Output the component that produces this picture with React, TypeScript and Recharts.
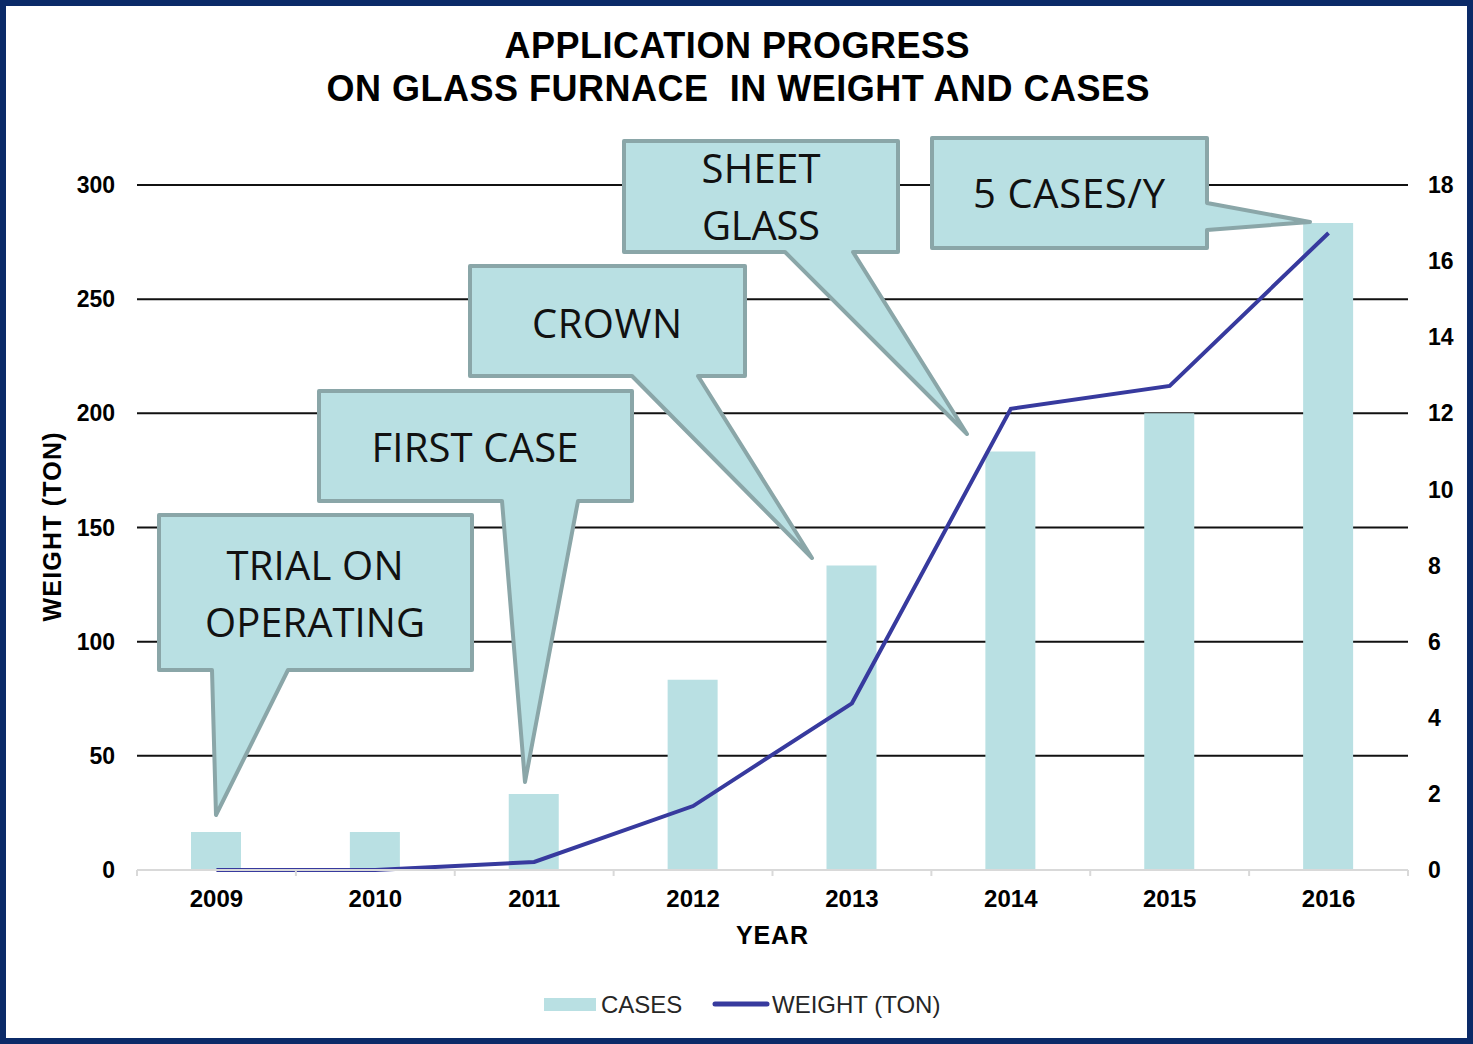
import { Bar, CartesianGrid, ComposedChart, Line, XAxis, YAxis } from "recharts";

const years = ["2009", "2010", "2011", "2012", "2013", "2014", "2015", "2016"];
const cases = [1, 1, 2, 5, 8, 11, 12, 17];
const weightTon = [0, 0, 3.5, 28, 73, 202, 212, 279];
const weightTicks = [0, 50, 100, 150, 200, 250, 300];
const caseTicks = [0, 2, 4, 6, 8, 10, 12, 14, 16, 18];

const data = years.map((year, i) => ({ year, cases: cases[i], weight: weightTon[i] }));

const W = 1473;
const H = 1044;
const MARGIN = { top: 185, right: 5, bottom: 94, left: 30 };
const LEFT_AXIS_W = 107;
const RIGHT_AXIS_W = 60;
const PLOT_W = W - MARGIN.left - MARGIN.right - LEFT_AXIS_W - RIGHT_AXIS_W;
const BAND = PLOT_W / years.length;

const BAR_COLOR = "#b9e0e3";
const LINE_COLOR = "#373a9e";
const AXIS_FONT = "'Liberation Sans', Arial, sans-serif";
const NOTE_FONT = "'Open Sans', 'Noto Sans', sans-serif";

// callout boxes: box [left, top, right, bottom], base = where the pointer leaves the box
const callouts = [
  { lines: ["TRIAL ON", "OPERATING"], box: [159, 515, 472, 670], side: "bottom", base: [212, 288], tip: [216, 815], cx: 315, baselines: [580, 637], widths: [177, 220] },
  { lines: ["FIRST CASE"], box: [319, 391, 632, 501], side: "bottom", base: [502, 578], tip: [525, 782], cx: 475, baselines: [462], widths: [207] },
  { lines: ["CROWN"], box: [470, 266, 745, 376], side: "bottom", base: [632, 698], tip: [812, 558], cx: 607, baselines: [338], widths: [150] },
  { lines: ["SHEET", "GLASS"], box: [624, 141, 898, 252], side: "bottom", base: [785, 853], tip: [967, 434], cx: 761, baselines: [183, 240], widths: [119, 118] },
  { lines: ["5 CASES/Y"], box: [932, 138, 1207, 248], side: "right", base: [203, 230], tip: [1310, 222], cx: 1069, baselines: [208], widths: [192] },
];

function calloutPath(c: (typeof callouts)[number]) {
  const [l, t, r, b] = c.box;
  const [tx, ty] = c.tip;
  if (c.side === "bottom") {
    return `M${l},${t} H${r} V${b} H${c.base[1]} L${tx},${ty} L${c.base[0]},${b} H${l} Z`;
  }
  return `M${l},${t} H${r} V${c.base[0]} L${tx},${ty} L${r},${c.base[1]} V${b} H${l} Z`;
}

function YearTick(props: any) {
  const { x, y, payload, index } = props;
  const axisY = y - 8;
  const half = BAND / 2;
  return (
    <g>
      <line x1={x - half} x2={x - half} y1={axisY} y2={axisY + 6} stroke="#d9d9d9" strokeWidth={2} />
      {index === years.length - 1 && (
        <line x1={x + half} x2={x + half} y1={axisY} y2={axisY + 6} stroke="#d9d9d9" strokeWidth={2} />
      )}
      <text x={x} y={y + 29} textAnchor="middle" fill="#000" fontSize={24} fontWeight={700} fontFamily={AXIS_FONT}>
        {payload.value}
      </text>
    </g>
  );
}

export default function App() {
  const tickStyle = { fill: "#000", fontSize: 23, fontWeight: 700, fontFamily: AXIS_FONT };
  return (
    <div style={{ position: "absolute", left: 0, top: 0, width: W, height: H, background: "#fff" }}>
      <ComposedChart width={W} height={H} data={data} margin={MARGIN}>
        <CartesianGrid yAxisId="left" vertical={false} stroke="#111" strokeWidth={2} />
        <XAxis
          dataKey="year"
          height={80}
          interval={0}
          tickSize={6}
          tickMargin={2}
          tickLine={false}
          axisLine={{ stroke: "#d9d9d9", strokeWidth: 2 }}
          tick={(p: any) => <YearTick {...p} />}
        />
        <YAxis
          yAxisId="left"
          orientation="left"
          width={LEFT_AXIS_W}
          domain={[0, 300]}
          ticks={weightTicks}
          axisLine={false}
          tickLine={false}
          tickMargin={16}
          tick={tickStyle}
        />
        <YAxis
          yAxisId="right"
          orientation="right"
          width={RIGHT_AXIS_W}
          domain={[0, 18]}
          ticks={caseTicks}
          axisLine={false}
          tickLine={false}
          tickMargin={14}
          tick={tickStyle}
        />
        <Bar yAxisId="right" dataKey="cases" fill={BAR_COLOR} barSize={50} isAnimationActive={false} />
        <Line
          yAxisId="left"
          type="linear"
          dataKey="weight"
          stroke={LINE_COLOR}
          strokeWidth={4}
          dot={false}
          activeDot={false}
          isAnimationActive={false}
        />
      </ComposedChart>

      <svg width={W} height={H} style={{ position: "absolute", left: 0, top: 0, pointerEvents: "none" }}>
        <g fontFamily={AXIS_FONT} fontWeight={700} fill="#000" textAnchor="middle">
          <text x={737} y={58} fontSize={36} textLength={465}>APPLICATION PROGRESS</text>
          <text x={738} y={101} fontSize={36} textLength={823} style={{ whiteSpace: "pre" }}>
            ON GLASS FURNACE  IN WEIGHT AND CASES
          </text>
          <text x={772} y={944} fontSize={25} textLength={72}>YEAR</text>
          <text x={61} y={527} fontSize={25} textLength={189} transform="rotate(-90 61 527)">WEIGHT (TON)</text>
        </g>

        {callouts.map((c) => (
          <g key={c.lines.join(" ")}>
            <path d={calloutPath(c)} fill={BAR_COLOR} stroke="#8aa6a8" strokeWidth={4} strokeLinejoin="round" />
            {c.lines.map((line, i) => (
              <text
                key={line}
                x={c.cx}
                y={c.baselines[i]}
                textAnchor="middle"
                fontFamily={NOTE_FONT}
                fontSize={40}
                fill="#111"
                textLength={c.widths[i]}
              >
                {line}
              </text>
            ))}
          </g>
        ))}

        <g fontFamily={AXIS_FONT} fontSize={24} fill="#262626">
          <rect x={544} y={998} width={52} height={13} fill={BAR_COLOR} />
          <text x={601} y={1013}>CASES</text>
          <line x1={715} x2={767} y1={1004} y2={1004} stroke={LINE_COLOR} strokeWidth={5} strokeLinecap="round" />
          <text x={772} y={1013}>WEIGHT (TON)</text>
        </g>
      </svg>

      <div
        style={{
          position: "absolute",
          left: 0,
          top: 0,
          width: W,
          height: H,
          boxSizing: "border-box",
          border: "6px solid #0b2a68",
          pointerEvents: "none",
        }}
      />
    </div>
  );
}
